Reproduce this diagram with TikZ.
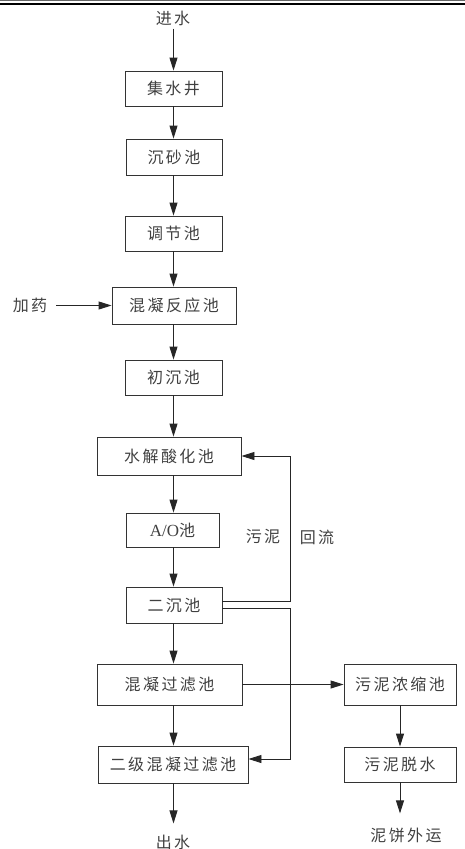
\documentclass[tikz,border=0pt]{standalone}
\usepackage{fontspec}
\setmainfont{Liberation Serif}
\newfontfamily\cjk[LetterSpace=15]{Noto Sans CJK SC}
\usetikzlibrary{arrows.meta}
\tikzset{
	pool/.style={draw=black!80, line width=0.9pt, inner sep=0pt, text=black!75, font=\cjk\fontsize{16}{18}\selectfont},
	word/.style={inner sep=0pt, text=black!75, font=\cjk\fontsize{16}{18}\selectfont},
	flow/.style={draw=black!85, line width=0.9pt, -{Triangle[length=13pt,width=8pt]}}
}

\begin{document}
\begin{tikzpicture}[x=1pt, y=1pt]
			%%%%% START %%%%%
			\useasboundingbox (0, 0) rectangle (465, -849);
			
			\draw[line width=0.5pt, color=black!60] (0, -0.5) -- (465, -0.5);
			\draw[line width=2.6pt] (0, -4) -- (465, -4);
			
			\coordinate (col) at (173.5, 0);
			
			\node[word] (jin) at (173, -18) {进水};
			\node[pool, minimum width=97pt, minimum height=35pt] (jsj) at (173.5, -88.5) {集水井};
			\node[pool, minimum width=96pt, minimum height=36pt] (csc) at (174, -157) {沉砂池};
			\node[pool, minimum width=97pt, minimum height=35pt] (tjc) at (173.5, -233.5) {调节池};
			\node[pool, minimum width=124pt, minimum height=37pt] (hnf) at (174, -305.5) {混凝反应池};
			\node[word] (jy) at (30, -305.5) {加药};
			\node[pool, minimum width=97pt, minimum height=35pt] (ccc) at (173.5, -377.5) {初沉池};
			\node[pool, minimum width=144pt, minimum height=38pt] (sjs) at (169, -456) {水解酸化池};
			\node[pool, minimum width=93pt, minimum height=34pt] (ao) at (172.5, -530) {{\rmfamily\fontsize{17}{18}\selectfont A/O}池};
			\node[pool, minimum width=96pt, minimum height=36pt] (ecc) at (174, -605) {二沉池};
			\node[pool, minimum width=145pt, minimum height=41pt] (hgl) at (169.5, -684.5) {混凝过滤池};
			\node[pool, minimum width=150pt, minimum height=37pt] (ejg) at (173, -764.5) {二级混凝过滤池};
			\node[word] (chu) at (173, -842) {出水};
			
			\node[pool, minimum width=112pt, minimum height=41pt] (wns) at (400, -684.5) {污泥浓缩池};
			\node[pool, minimum width=112pt, minimum height=35pt] (wtu) at (400, -764.5) {污泥脱水};
			\node[word] (nbw) at (406, -835) {泥饼外运};
			
			\node[word] (wn) at (263, -537) {污泥};
			\node[word] (hl) at (317, -537) {回流};
			
			% main line
			\draw[flow] (jin.south -| col) ++(0, -3) -- (jsj.north -| col);
			\draw[flow] (jsj.south -| col) -- (csc.north -| col);
			\draw[flow] (csc.south -| col) -- (tjc.north -| col);
			\draw[flow] (tjc.south -| col) -- (hnf.north -| col);
			\draw[flow, shorten <=9pt] (jy.east) -- (hnf.west);
			\draw[flow] (hnf.south -| col) -- (ccc.north -| col);
			\draw[flow] (ccc.south -| col) -- (sjs.north -| col);
			\draw[flow] (sjs.south -| col) -- (ao.north -| col);
			\draw[flow] (ao.south -| col) -- (ecc.north -| col);
			\draw[flow] (ecc.south -| col) -- (hgl.north -| col);
			\draw[flow] (hgl.south -| col) -- (ejg.north -| col);
			\draw[flow, shorten >=11pt] (ejg.south -| col) -- (chu.north -| col);
			
			% sludge
			\draw[flow] ([yshift=4pt]ecc.east) -- ++(68, 0) |- (sjs.east);
			\draw[flow] ([yshift=-3pt]ecc.east) -- ++(68, 0) |- ([yshift=5.5pt]ejg.east);
			\draw[flow] (hgl.east) -- (wns.west);
			\draw[flow] (wns.south -| wtu) -- (wtu.north);
			\draw[flow, shorten >=14pt] (wtu.south) -- (wtu.south |- nbw.north);
			
			%%%%% END %%%%%
\end{tikzpicture}
\end{document}
